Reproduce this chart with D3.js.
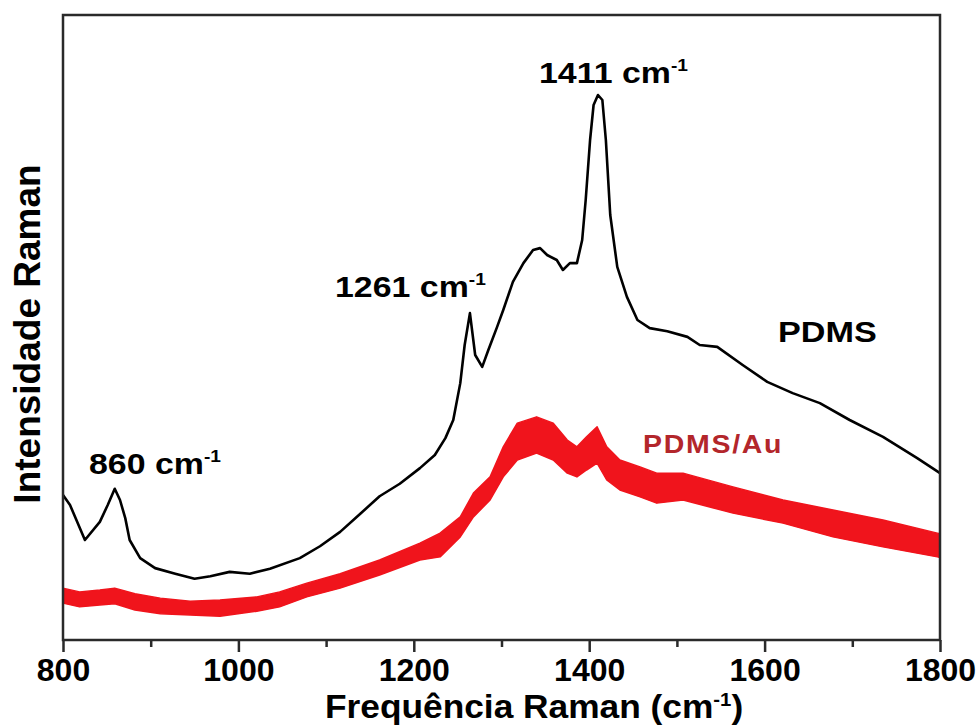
<!DOCTYPE html>
<html>
<head>
<meta charset="utf-8">
<script src="https://cdn.jsdelivr.net/npm/d3@7"></script>
<style>
    body { margin: 0; background: #fff; }
    text { font-family: "Liberation Sans", Arial, sans-serif; font-weight: bold; }
</style>
</head>
<body>
<svg id="chart" width="976" height="725"></svg>
<script>
// PDMS spectrum (black line)
let wavePDMS = [800, 808, 825, 842, 851, 859, 865, 871, 876, 888, 905, 928, 950, 968, 990, 1013, 1036, 1070,
    1093, 1116, 1139, 1161, 1184, 1207, 1224, 1236, 1245, 1253, 1258, 1264, 1270, 1278, 1285, 1295, 1302,
    1313, 1325, 1336, 1344, 1352, 1363, 1370, 1378, 1386, 1392, 1396, 1401, 1405, 1410, 1415, 1419, 1424,
    1432, 1443, 1455, 1469, 1489, 1512, 1526, 1546, 1575, 1603, 1632, 1663, 1697, 1735, 1774, 1800];
let intPDMS = [232, 216, 160, 189, 216, 242, 224, 195, 160, 131, 115, 106, 98, 102, 109, 106, 114, 131,
    150, 173, 202, 230, 250, 275, 296, 323, 352, 411, 472, 523, 456, 437, 464, 501, 528,
    573, 603, 624, 627, 616, 608, 592, 603, 603, 640, 704, 800, 856, 872, 864, 800, 680,
    597, 549, 512, 499, 494, 485, 472, 469, 440, 413, 395, 379, 352, 325, 291, 267];

// PDMS/Au spectrum (red band): upper and lower edge of the noisy trace
let waveAu = [800, 819, 842, 859, 882, 911, 945, 979, 1021, 1047, 1078, 1116, 1161, 1207, 1230, 1253, 1268,
    1287, 1302, 1318, 1340, 1359, 1375, 1386, 1397, 1409, 1420, 1435, 1458, 1477, 1507, 1564, 1621, 1678,
    1735, 1797, 1800];
let auUpper = [83, 77, 80, 83, 74, 67, 62, 64, 69, 77, 91, 106, 128, 155, 171, 197, 235,
    261, 309, 347, 357, 347, 320, 309, 325, 341, 309, 288, 277, 267, 267, 245, 224, 208,
    192, 171, 170];
let auLower = [59, 53, 56, 58, 48, 42, 40, 38, 46, 53, 69, 83, 104, 128, 133, 165, 197,
    224, 261, 288, 299, 288, 267, 261, 272, 283, 256, 240, 229, 219, 224, 203, 187, 165,
    149, 133, 132];

let majorTicks = [800, 1000, 1200, 1400, 1600, 1800];
let minorTicks = [900, 1100, 1300, 1500, 1700];

// peak labels: wavenumber of each band
let peaks = [860, 1261, 1411];

let svg = d3.select("#chart");
let plotLeft = 63, plotRight = 940, plotTop = 15, plotBottom = 640;

let x = d3.scaleLinear().domain([800, 1800]).range([plotLeft, plotRight]);
let y = d3.scaleLinear().domain([0, 1000]).range([plotBottom, plotTop]);

// red band
let auData = waveAu.map((w, i) => ({w: w, hi: auUpper[i], lo: auLower[i]}));
let area = d3.area()
    .x(d => x(d.w))
    .y0(d => y(d.lo))
    .y1(d => y(d.hi));
svg.append("path")
    .datum(auData)
    .attr("d", area)
    .attr("fill", "#f0141c")
    .attr("stroke", "#f0141c")
    .attr("stroke-width", 1.5)
    .attr("stroke-linejoin", "round");

// black line
let pdmsData = wavePDMS.map((w, i) => ({w: w, v: intPDMS[i]}));
let line = d3.line()
    .x(d => x(d.w))
    .y(d => y(d.v));
svg.append("path")
    .datum(pdmsData)
    .attr("d", line)
    .attr("fill", "none")
    .attr("stroke", "#000")
    .attr("stroke-width", 2.6)
    .attr("stroke-linejoin", "round");

// frame
svg.append("rect")
    .attr("x", plotLeft).attr("y", plotTop)
    .attr("width", plotRight - plotLeft).attr("height", plotBottom - plotTop)
    .attr("fill", "none")
    .attr("stroke", "#2a2a2a")
    .attr("stroke-width", 2.5);

// x axis: minor ticks, then major ticks with labels
let minorAxis = svg.append("g")
    .attr("transform", "translate(0," + plotBottom + ")")
    .call(d3.axisBottom(x).tickValues(minorTicks).tickSize(7).tickFormat(""));
let majorAxis = svg.append("g")
    .attr("transform", "translate(0," + plotBottom + ")")
    .call(d3.axisBottom(x).tickValues(majorTicks).tickSize(12).tickPadding(6).tickFormat(d3.format("d")));
[minorAxis, majorAxis].forEach(g => {
    g.select(".domain").remove();
    g.selectAll(".tick line").attr("stroke", "#2a2a2a").attr("stroke-width", 2.5);
});
majorAxis.selectAll(".tick text")
    .attr("fill", "#000")
    .style("font-size", "32px")
    .style("font-family", "'Liberation Sans', Arial, sans-serif")
    .style("font-weight", "bold");

// axis titles
let xTitle = svg.append("text")
    .attr("transform", "translate(325,718) scale(1.07,1)")
    .style("font-size", "33px")
    .attr("fill", "#000");
xTitle.append("tspan").text("Frequência Raman (cm");
xTitle.append("tspan").text("-1").style("font-size", "19px").attr("dy", -12);
xTitle.append("tspan").text(")").attr("dy", 12);

svg.append("text")
    .attr("transform", "translate(40,334) rotate(-90)")
    .attr("text-anchor", "middle")
    .style("font-size", "37px")
    .attr("fill", "#000")
    .text("Intensidade Raman");

// peak annotations, stretched a little wider like the original
let peakLabelPos = [[89, 474], [335, 297], [539, 83]];
peaks.forEach((p, i) => {
    let t = svg.append("text")
        .attr("transform", "translate(" + peakLabelPos[i][0] + "," + peakLabelPos[i][1] + ") scale(1.13,1)")
        .style("font-size", "30px")
        .attr("fill", "#000");
    t.append("tspan").text(p + " cm");
    t.append("tspan").text("-1").style("font-size", "17px").attr("dy", -12);
});

// series labels
svg.append("text")
    .attr("transform", "translate(778,342) scale(1.14,1)")
    .style("font-size", "30px")
    .attr("fill", "#000")
    .text("PDMS");
svg.append("text")
    .attr("transform", "translate(643,453) scale(1.14,1)")
    .style("font-size", "25px")
    .style("letter-spacing", "1.5px")
    .attr("fill", "#b3262b")
    .text("PDMS/Au");
</script>
</body>
</html>
